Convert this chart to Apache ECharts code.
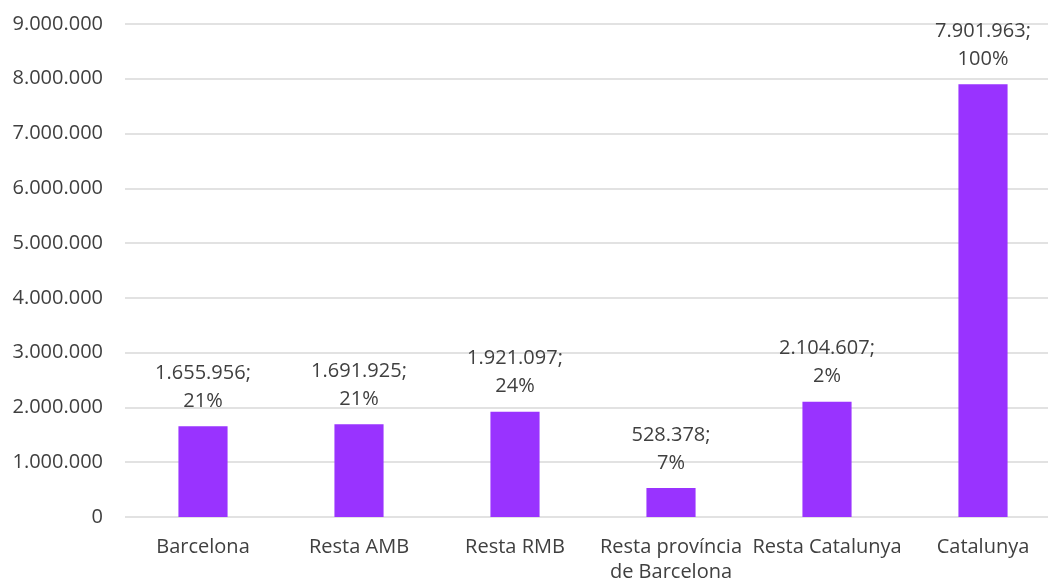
<!DOCTYPE html>
<html>
<head>
<meta charset="utf-8">
<script src="https://cdn.jsdelivr.net/npm/echarts@6/dist/echarts.min.js"></script>
<style>
html,body{margin:0;padding:0;background:#fff;}
#chart{width:1048px;height:582px;}
</style>
</head>
<body>
<div id="chart"></div>
<script>
const categories = ["Barcelona", "Resta AMB", "Resta RMB", "Resta província\nde Barcelona", "Resta Catalunya", "Catalunya"];
const values = [1655956, 1691925, 1921097, 528378, 2104607, 7901963];
const percents = ["21%", "21%", "24%", "7%", "2%", "100%"];

function fmt(n) {
  return String(Math.round(n)).replace(/\B(?=(\d{3})+(?!\d))/g, ".");
}

const chart = echarts.init(document.getElementById('chart'));
chart.setOption({
  animation: false,
  textStyle: { fontFamily: "Open Sans" },
  grid: { left: 125, width: 936, top: 24, height: 493, outerBoundsMode: 'none', containLabel: false },
  xAxis: {
    type: 'category',
    data: categories,
    axisLine: { show: false },
    axisTick: { show: false },
    axisLabel: {
      interval: 0,
      color: '#404040',
      fontSize: 20,
      fontFamily: 'Open Sans',
      lineHeight: 25,
      margin: 18
    }
  },
  yAxis: {
    type: 'value',
    min: 0,
    max: 9000000,
    interval: 1000000,
    axisLine: { show: false },
    axisTick: { show: false },
    splitLine: { lineStyle: { color: '#d9d9d9', width: 1.5 } },
    axisLabel: {
      color: '#404040',
      fontSize: 20,
      fontFamily: 'Open Sans',
      margin: 22,
      formatter: v => fmt(v)
    }
  },
  series: [{
    type: 'bar',
    data: values,
    barWidth: '31.5%',
    itemStyle: { color: '#9933FF' },
    label: {
      show: true,
      position: 'top',
      distance: 11,
      color: '#404040',
      fontSize: 20,
      fontFamily: 'Open Sans',
      lineHeight: 28,
      formatter: p => fmt(p.value) + ';\n' + percents[p.dataIndex]
    }
  }]
});
</script>
</body>
</html>
